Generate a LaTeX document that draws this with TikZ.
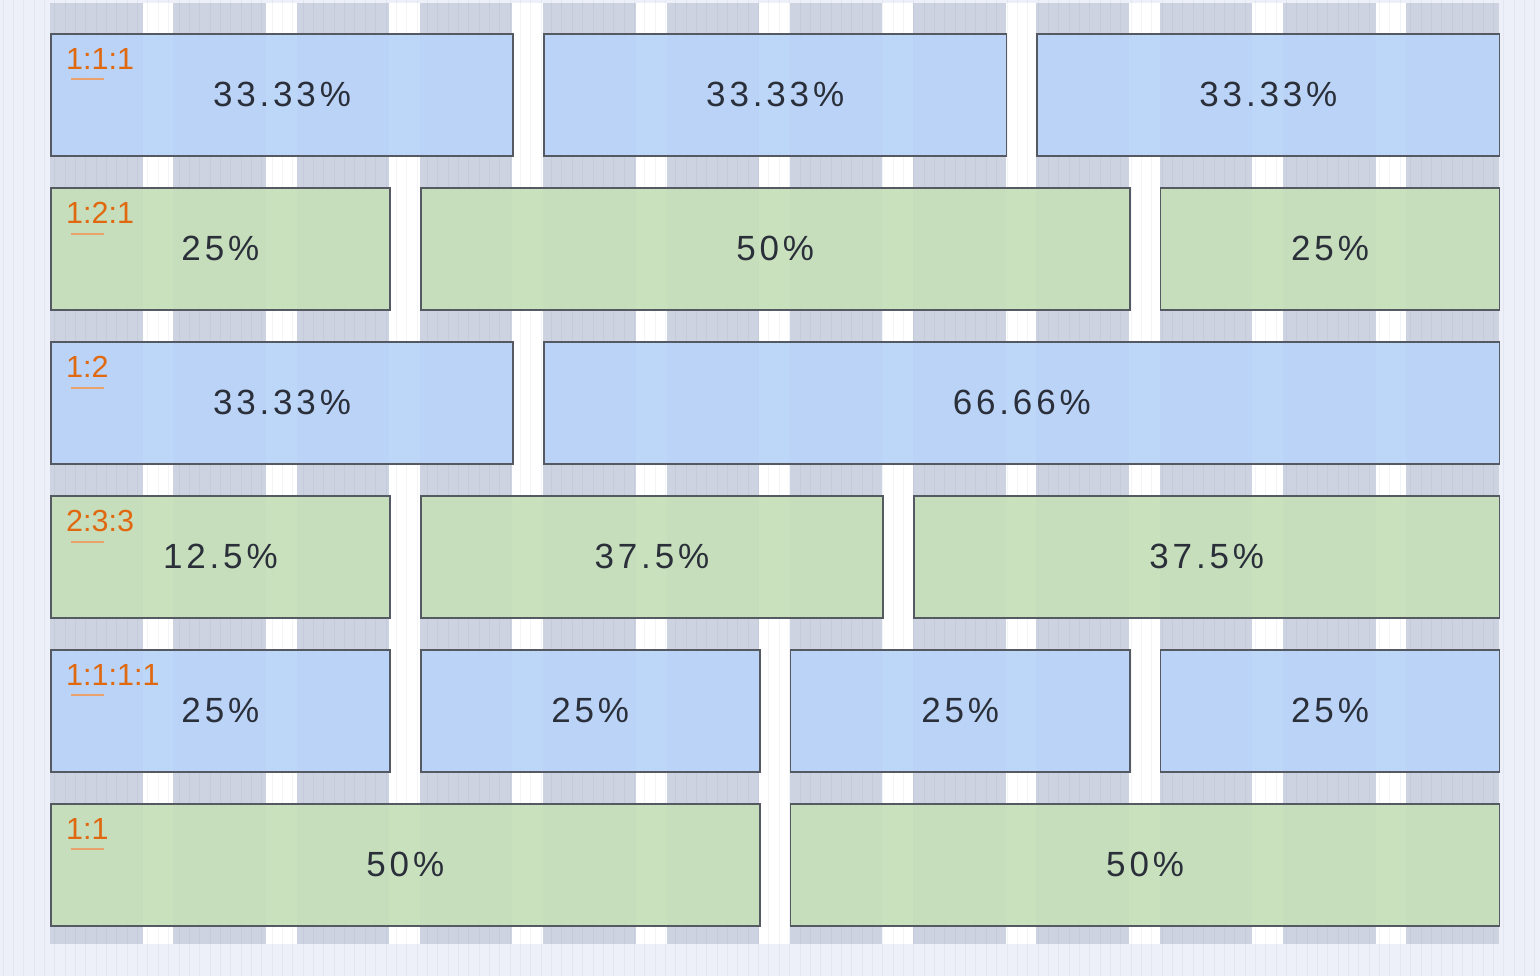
\documentclass[tikz,border=0pt]{standalone}
\usepackage{fontspec}
\setmainfont{Liberation Sans}
\newfontfamily\pctfont[LetterSpace=11]{Liberation Sans}
\usepackage{tikz}
\usetikzlibrary{positioning}
\definecolor{pageBg}{HTML}{EDF0F8}
\definecolor{colGrey}{HTML}{CDD3E0}
\definecolor{stripeInk}{HTML}{5A6890}
\definecolor{cellBlue}{HTML}{B9D4F9}
\definecolor{cellGreen}{HTML}{C6DFB9}
\definecolor{cellLine}{HTML}{555A62}
\definecolor{pctText}{HTML}{2A2F3A}
\definecolor{tagOrange}{HTML}{E0680F}
\definecolor{tagLine}{HTML}{E9A26C}
\tikzset{
  cellbox/.style={rectangle, draw=cellLine, line width=1.6pt, fill=#1, fill opacity=0.93, text opacity=1, anchor=north west, minimum height=122pt, inner sep=0pt, text=pctText, font=\pctfont\fontsize{35}{38}\selectfont},
  ratiotag/.style={anchor=north west, inner sep=0pt, text=tagOrange, font=\fontsize{30.5}{33}\selectfont},
  tagline/.style={draw=tagLine, line width=2pt},
  gridcol/.style={fill=colGrey, draw=none},
  stripe/.style={draw=stripeInk, draw opacity=0.07, line width=0.9pt},
}

\begin{document}
\begin{tikzpicture}[x=1pt,y=-1pt]
  \useasboundingbox (0,0) rectangle (1540,976);
  % page and 12-column grid
  \fill[pageBg] (0,0) rectangle (1540,976);
  \fill[white] (50,3) rectangle (1499,944);
  \foreach \k in {0,...,11}
    \fill[gridcol] ({50+123.3*\k},3) rectangle ++(92.5,941);
  \foreach \i in {0,...,148}
    \draw[stripe] ({3+10.35*\i},0) -- ++(0,976);

  % row 1 -- 1:1:1
  \node[cellbox=cellBlue, minimum width=462.4pt] (r1a) at (50,33) {33.33\%};
  \node[cellbox=cellBlue, minimum width=462.4pt] (r1b) at (543.2,33) {33.33\%};
  \node[cellbox=cellBlue, minimum width=462.4pt] (r1c) at (1036.4,33) {33.33\%};

  % row 2 -- 1:2:1
  \node[cellbox=cellGreen, minimum width=339.1pt] (r2a) at (50,187) {25\%};
  \node[cellbox=cellGreen, minimum width=709pt] (r2b) at (419.9,187) {50\%};
  \node[cellbox=cellGreen, minimum width=339.1pt] (r2c) at (1159.7,187) {25\%};

  % row 3 -- 1:2
  \node[cellbox=cellBlue, minimum width=462.4pt] (r3a) at (50,341) {33.33\%};
  \node[cellbox=cellBlue, minimum width=955.6pt] (r3b) at (543.2,341) {66.66\%};

  % row 4 -- 2:3:3
  \node[cellbox=cellGreen, minimum width=339.1pt] (r4a) at (50,495) {12.5\%};
  \node[cellbox=cellGreen, minimum width=462.4pt] (r4b) at (419.9,495) {37.5\%};
  \node[cellbox=cellGreen, minimum width=585.7pt] (r4c) at (913.1,495) {37.5\%};

  % row 5 -- 1:1:1:1
  \node[cellbox=cellBlue, minimum width=339.1pt] (r5a) at (50,649) {25\%};
  \node[cellbox=cellBlue, minimum width=339.1pt] (r5b) at (419.9,649) {25\%};
  \node[cellbox=cellBlue, minimum width=339.1pt] (r5c) at (789.8,649) {25\%};
  \node[cellbox=cellBlue, minimum width=339.1pt] (r5d) at (1159.7,649) {25\%};

  % row 6 -- 1:1
  \node[cellbox=cellGreen, minimum width=709pt] (r6a) at (50,803) {50\%};
  \node[cellbox=cellGreen, minimum width=709pt] (r6b) at (789.8,803) {50\%};

  % ratio tags
  \node[ratiotag] (r1tag) at ([xshift=16pt,yshift=-15pt]r1a.north west) {1:1:1};
  \node[ratiotag] (r2tag) at ([xshift=16pt,yshift=-15pt]r2a.north west) {1:2:1};
  \node[ratiotag] (r3tag) at ([xshift=16pt,yshift=-15pt]r3a.north west) {1:2};
  \node[ratiotag] (r4tag) at ([xshift=16pt,yshift=-15pt]r4a.north west) {2:3:3};
  \node[ratiotag] (r5tag) at ([xshift=16pt,yshift=-15pt]r5a.north west) {1:1:1:1};
  \node[ratiotag] (r6tag) at ([xshift=16pt,yshift=-15pt]r6a.north west) {1:1};
  \foreach \t in {r1tag,r2tag,r3tag,r4tag,r5tag,r6tag}
    \draw[tagline] ([xshift=5pt,yshift=-10pt]\t.south west) -- ++(33,0);
\end{tikzpicture}
\end{document}
